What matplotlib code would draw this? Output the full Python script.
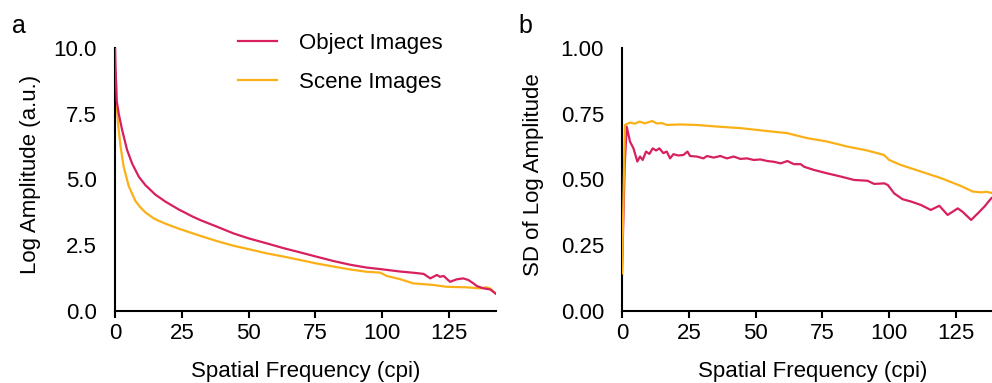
import matplotlib
matplotlib.use("Agg")
import matplotlib.pyplot as plt
from matplotlib.ticker import FormatStrFormatter

plt.rcParams['font.family'] = ['Liberation Sans', 'DejaVu Sans']

OBJ_COLOR = '#d81f60'
SCN_COLOR = '#fbb018'

series_names = ['Object Images', 'Scene Images']

# Panel a: mean log amplitude spectrum
freq_a_obj = [0, 0.2, 0.6, 1.37, 2.6, 4.5, 6.4, 8.9, 11.3, 15.1, 18.8, 23.8,
              28.8, 31.8, 35, 38, 44.3, 50, 56.8, 63, 69.2, 75.2, 81.7, 87.9,
              94.2, 99.5, 106.7, 112, 115.5, 118, 120.5, 121.6, 123, 125.4,
              127.8, 130.3, 132.2, 134, 135.4, 137.9, 140.4, 142.5]
amp_obj = [10.0, 9.2, 8.0, 7.5, 6.9, 6.12, 5.6, 5.1, 4.79, 4.42, 4.16, 3.86,
           3.6, 3.46, 3.33, 3.21, 2.95, 2.76, 2.57, 2.39, 2.23, 2.07, 1.9, 1.76,
           1.65, 1.59, 1.5, 1.45, 1.41, 1.24, 1.37, 1.3, 1.33, 1.11, 1.2, 1.24,
           1.18, 1.06, 0.95, 0.86, 0.82, 0.66]

freq_a_scn = [0, 0.25, 0.6, 1.12, 2, 3.2, 5.1, 7.6, 9.4, 11.3, 14.3, 16.3, 19.3,
              23.8, 28.8, 31.8, 38, 44.3, 50, 56.8, 63, 69.2, 75.2, 81.7, 87.9,
              94.2, 99.2, 101.7, 106.7, 111.6, 119.1, 124.1, 131.5, 136.6,
              139.1, 140.5, 142.5]
amp_scn = [9.05, 9.0, 7.9, 7.1, 6.3, 5.49, 4.75, 4.18, 3.95, 3.75, 3.53, 3.43,
           3.3, 3.13, 2.96, 2.86, 2.66, 2.48, 2.35, 2.19, 2.07, 1.94, 1.81, 1.69,
           1.58, 1.49, 1.46, 1.33, 1.21, 1.05, 0.99, 0.92, 0.9, 0.86, 0.9, 0.85,
           0.66]

# Panel b: standard deviation of log amplitude
freq_b_obj = [0, 1, 1.75, 3, 4.3, 5.75, 6.75, 7.75, 9, 10.25, 11.5, 12.75, 14,
              15.5, 16.75, 18, 19.25, 21.1, 23, 24.5, 25.5, 28, 30.5, 31.8, 34.3,
              36.8, 39.3, 41.8, 44.3, 46.8, 49.3, 51.8, 54.4, 56.9, 59.4, 61.9,
              64.4, 66.9, 68.2, 71.9, 76.9, 81.9, 86.9, 91.9, 94.4, 98.2, 99.5,
              101.9, 105, 108.2, 111.9, 115.6, 118.8, 121.9, 125.7, 127.5, 130.7,
              133.2, 135.7, 138.2, 139, 142.5]
sd_obj = [0.14, 0.55, 0.701, 0.644, 0.618, 0.568, 0.587, 0.574, 0.606, 0.597,
          0.618, 0.61, 0.618, 0.6, 0.606, 0.58, 0.596, 0.591, 0.593, 0.606, 0.589,
          0.587, 0.58, 0.589, 0.583, 0.589, 0.58, 0.587, 0.578, 0.58, 0.574,
          0.576, 0.57, 0.567, 0.561, 0.57, 0.558, 0.558, 0.548, 0.536, 0.523,
          0.511, 0.498, 0.495, 0.483, 0.485, 0.479, 0.447, 0.425, 0.416, 0.403,
          0.384, 0.4, 0.365, 0.39, 0.377, 0.346, 0.371, 0.397, 0.428, 0.434,
          0.46]

freq_b_scn = [0, 1.1, 3, 4.8, 6.6, 8.5, 11.3, 13, 15, 16.8, 21.8, 28, 35.5, 44.3,
              54.3, 61.8, 69.3, 76.8, 84.3, 91.8, 98.1, 100, 104.4, 111.9, 119.4,
              126.9, 131.3, 134.5, 136.5, 139, 142.5]
sd_scn = [0.143, 0.707, 0.716, 0.712, 0.72, 0.713, 0.722, 0.713, 0.714, 0.707,
          0.709, 0.707, 0.701, 0.695, 0.684, 0.676, 0.657, 0.644, 0.625, 0.61,
          0.593, 0.574, 0.555, 0.53, 0.505, 0.475, 0.454, 0.451, 0.453, 0.447,
          0.445]

x_ticks = [0, 25, 50, 75, 100, 125]
y_ticks_a = [0.0, 2.5, 5.0, 7.5, 10.0]
y_ticks_b = [0.0, 0.25, 0.5, 0.75, 1.0]

fig = plt.figure(figsize=(9.92, 3.83), dpi=100)
ax_a = fig.add_axes([0.116, 0.188, 0.384, 0.687])
ax_b = fig.add_axes([0.627, 0.188, 0.384, 0.687])

lw = 1.6
ax_a.plot(freq_a_scn, amp_scn, color=SCN_COLOR, lw=lw, label=series_names[1], zorder=2)
ax_a.plot(freq_a_obj, amp_obj, color=OBJ_COLOR, lw=lw, label=series_names[0], zorder=3)
ax_b.plot(freq_b_obj, sd_obj, color=OBJ_COLOR, lw=lw, zorder=2)
ax_b.plot(freq_b_scn, sd_scn, color=SCN_COLOR, lw=lw, zorder=3)

for ax, yt, fmt, ylab in [(ax_a, y_ticks_a, '%.1f', 'Log Amplitude (a.u.)'),
                          (ax_b, y_ticks_b, '%.2f', 'SD of Log Amplitude')]:
    ax.set_xlim(0, 142.6)
    ax.set_ylim(yt[0], yt[-1])
    ax.set_xticks(x_ticks)
    ax.set_yticks(yt)
    ax.yaxis.set_major_formatter(FormatStrFormatter(fmt))
    for side in ('top', 'right'):
        ax.spines[side].set_visible(False)
    for side in ('left', 'bottom'):
        ax.spines[side].set_linewidth(1.5)
        ax.spines[side].set_color('black')
    ax.tick_params(axis='x', direction='out', length=5, width=1.5, pad=4,
                   labelsize=16)
    ax.tick_params(axis='y', length=0, pad=13, labelsize=16)
    ax.set_xlabel('Spatial Frequency (cpi)', fontsize=16)
    ax.set_ylabel(ylab, fontsize=16)
    ax.xaxis.set_label_coords(0.5, -0.19)
    ax.xaxis.label.set_verticalalignment('top')
    ax.yaxis.label.set_verticalalignment('center')

ax_a.yaxis.set_label_coords(-0.223, 0.52)
ax_b.yaxis.set_label_coords(-0.231, 0.52)

handles, labels = ax_a.get_legend_handles_labels()
ax_a.legend(handles[::-1], labels[::-1], loc='upper left', frameon=False,
            bbox_to_anchor=(238 / 992, 1 - 33 / 383),
            bbox_transform=fig.transFigure, borderaxespad=0, borderpad=0,
            handlelength=1.75, handletextpad=1.0, labelspacing=0.8,
            fontsize=16)

fig.text(12 / 992, 1 - 33 / 383, 'a', fontsize=18)
fig.text(518 / 992, 1 - 33 / 383, 'b', fontsize=18)

fig.savefig('out.png', dpi=100)
